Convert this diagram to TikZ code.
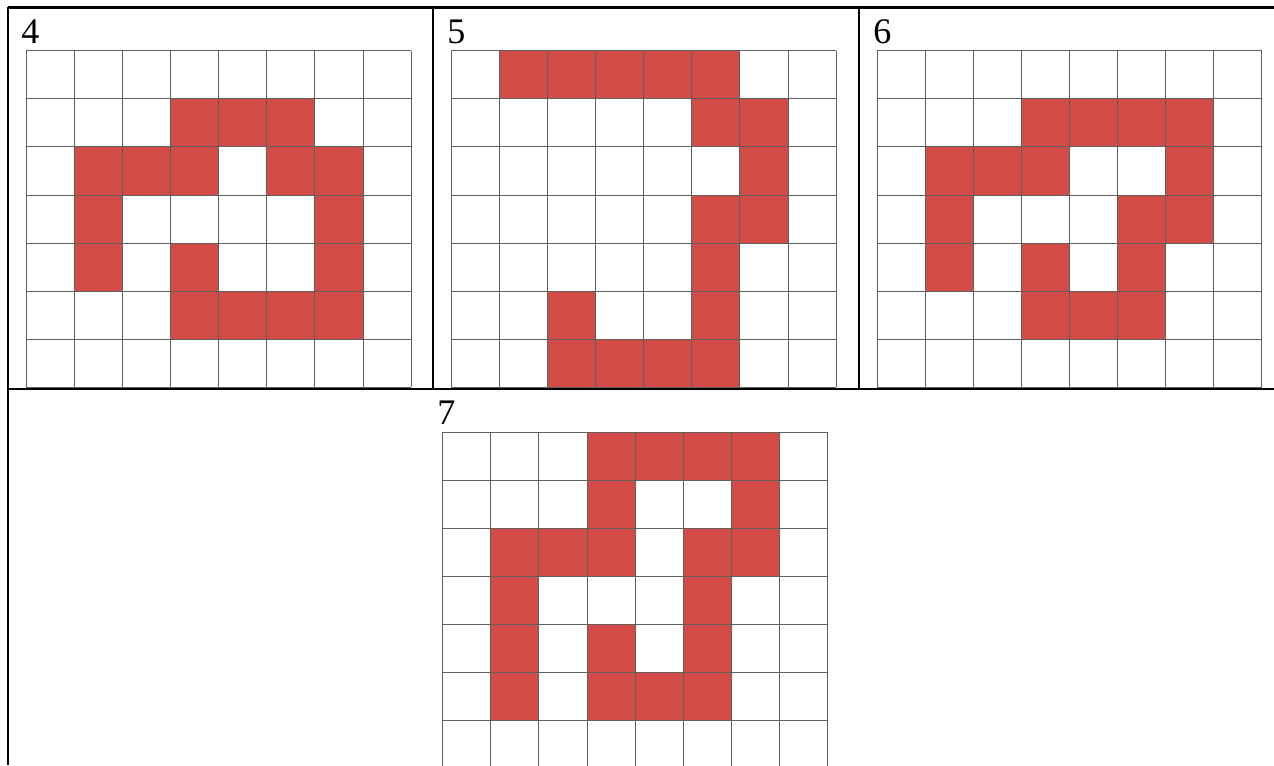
\documentclass[tikz,border=0pt]{standalone}
\usepackage{fontspec}
\setmainfont{Liberation Serif}
\usepackage{tikz}
\usetikzlibrary{positioning}
\usepackage{xcolor}
\definecolor{cellred}{RGB}{211,75,70}
\definecolor{gridgray}{RGB}{95,95,95}

\tikzset{
  rule/.style={black, line width=1.9pt},
  gridline/.style={gridgray, line width=0.7pt},
  numlabel/.style={anchor=base west, inner sep=0pt, font=\fontsize{27}{30}\selectfont}
}

\begin{document}
\begin{tikzpicture}[x=0.75pt, y=-0.75pt]
  \useasboundingbox (0,0) rectangle (1274,765);
  % table rules
  \draw[rule] (8,7.5) -- (1274,7.5);
  \draw[rule] (8,389) -- (1274,389);
  \draw[rule] (8,6.5) -- (8,765);
  \draw[rule] (433,7.5) -- (433,389);
  \draw[rule] (859,7.5) -- (859,389);
  % labels
  \node[numlabel] (lab4) at (21,43) {4};
  \node[numlabel] (lab5) at (447,43) {5};
  \node[numlabel] (lab6) at (873,43) {6};
  \node[numlabel] (lab7) at (437,424) {7};
  % filled cells: origin x / origin y / list of col-row pairs
  \foreach \gx/\gy/\cells in {
      26.3/50.7/{3/1,4/1,5/1,1/2,2/2,3/2,5/2,6/2,1/3,6/3,1/4,3/4,6/4,3/5,4/5,5/5,6/5},
      451.3/50.7/{1/0,2/0,3/0,4/0,5/0,5/1,6/1,6/2,5/3,6/3,5/4,2/5,5/5,2/6,3/6,4/6,5/6},
      877/50.7/{3/1,4/1,5/1,6/1,1/2,2/2,3/2,6/2,1/3,5/3,6/3,1/4,3/4,5/4,3/5,4/5,5/5},
      442.7/432/{3/0,4/0,5/0,6/0,3/1,6/1,1/2,2/2,3/2,5/2,6/2,1/3,5/3,1/4,3/4,5/4,1/5,3/5,4/5,5/5}}
    \foreach \c/\r in \cells
      \fill[cellred] (\gx+48.1*\c, \gy+48.1*\r) rectangle ++(48.1,48.1);
  % grids 8 x 7
  \foreach \gx/\gy in {26.3/50.7, 451.3/50.7, 877/50.7, 442.7/432} {
    \foreach \i in {0,...,8}
      \draw[gridline] (\gx+48.1*\i, \gy) -- ++(0,336.7);
    \foreach \j in {0,...,7}
      \draw[gridline] (\gx, \gy+48.1*\j) -- ++(384.8,0);
  }
  % grid bottoms sit on the rule
  \draw[rule] (8,389) -- (1274,389);
\end{tikzpicture}
\end{document}
